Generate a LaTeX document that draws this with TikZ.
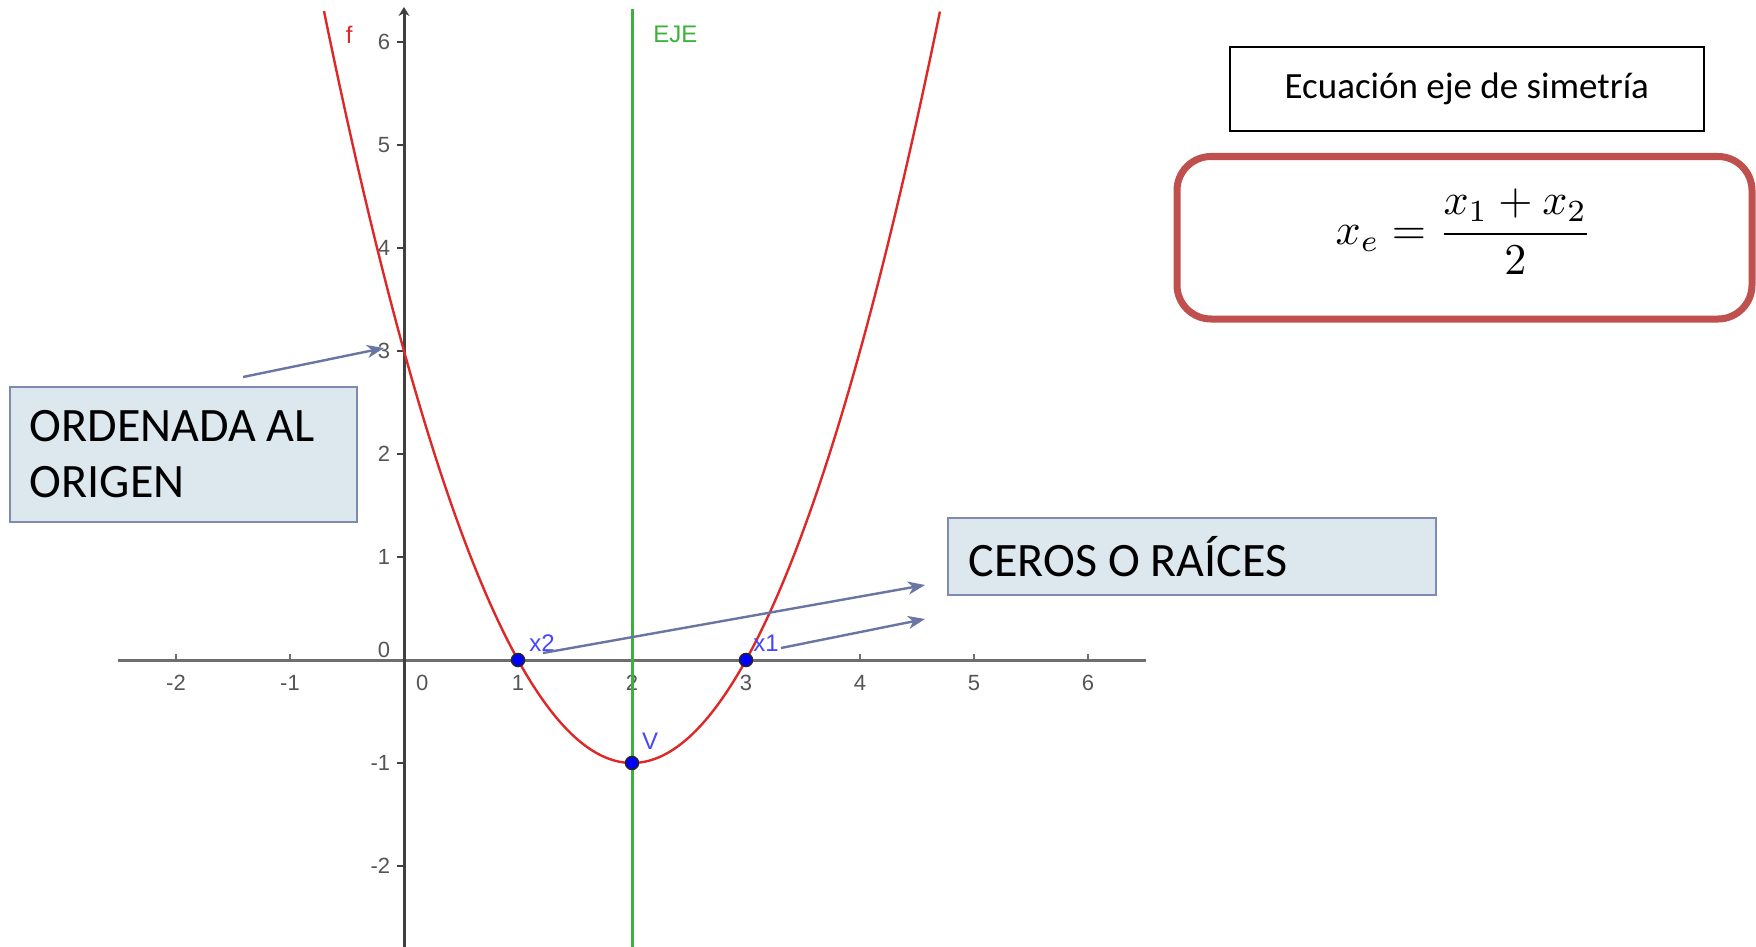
\documentclass[tikz,border=0pt]{standalone}
\usepackage{fontspec}
\setmainfont{Carlito}
\newfontfamily\ggfont{Liberation Sans}
\usetikzlibrary{arrows.meta}
\definecolor{axisdark}{RGB}{64,64,64}
\definecolor{axislight}{RGB}{110,110,110}
\definecolor{curvered}{RGB}{222,40,40}
\definecolor{ejegreen}{RGB}{60,178,60}
\definecolor{ptblue}{RGB}{0,0,255}
\definecolor{lblblue}{RGB}{70,70,255}
\definecolor{tickgray}{RGB}{85,85,85}
\definecolor{arrowblue}{RGB}{105,118,162}
\definecolor{boxfill}{RGB}{221,232,238}
\definecolor{boxborder}{RGB}{125,138,178}
\definecolor{officered}{RGB}{192,80,77}
\tikzset{
  callout/.style={draw=boxborder, fill=boxfill, line width=1.8pt, anchor=north west,
    align=flush left, inner sep=0pt, font=\fontsize{48}{56}\selectfont},
  pointer/.style={draw=arrowblue, line width=2.4pt, -{Stealth[length=17pt,width=13pt,inset=5pt]}},
  ticklbl/.style={font=\ggfont\fontsize{22}{26}\selectfont, text=tickgray, inner sep=0pt},
  ptlbl/.style={font=\ggfont\fontsize{24}{28}\selectfont, text=lblblue, inner sep=0pt},
  ptdot/.style={circle, fill=ptblue, draw=black!85, line width=1.5pt, minimum size=13pt, inner sep=0pt},
  tickline/.style={line width=2pt}
}
\begin{document}
\begin{tikzpicture}[x=1pt,y=-1pt]
\useasboundingbox (0,0) rectangle (1756,947);
\fill[white] (0,0) rectangle (1756,947);
% ---------- graph ----------
\begin{scope}[shift={(404,660)},x=114pt,y=103pt]
  % x axis
  \coordinate (xl) at (-2.51,0);
  \coordinate (xr) at (6.51,0);
  \draw[axislight, line width=3pt] (xl) -- (xr);
  \foreach \i in {-2,-1,1,2,3,4,5,6}
    \draw[axislight, tickline] (\i,0) -- (\i,0.06);
  % y axis
  \coordinate (yb) at (0,-2.8);
  \coordinate (yt) at (0,6.34);
  \draw[axisdark, line width=3pt, -{Stealth[length=9pt,width=11pt]}] (yb) -- (yt);
  \foreach \i in {-2,-1,1,2,3,4,5,6}
    \draw[axisdark, tickline] (0,\i) -- (-0.065,\i);
  % tick labels
  \foreach \i in {-2,-1,1,2,3,4,5,6}
    \node[ticklbl] (xt\i) at (\i,-0.22) {\i};
  \node[ticklbl] (xt0) at (0.16,-0.22) {0};
  \foreach \i in {-2,-1,1,2,3,4,5,6}
    \node[ticklbl, anchor=east] (yt\i) at (-0.12,\i) {\i};
  \node[ticklbl, anchor=east] (yt0) at (-0.12,0.1) {0};
  % symmetry axis
  \coordinate (ejeb) at (2,-2.8);
  \coordinate (ejet) at (2,6.32);
  \draw[ejegreen, line width=3pt] (ejeb) -- (ejet);
  \node[font=\ggfont\fontsize{24}{28}\selectfont, text=ejegreen, inner sep=0pt] (ejelbl) at (2.38,6.07) {EJE};
  % parabola
  \draw[curvered, line width=2.4pt, domain=-0.702:4.702, samples=160, smooth]
    plot (\x, {(\x-1)*(\x-3)});
  \node[font=\ggfont\fontsize{24}{28}\selectfont, text=curvered, inner sep=0pt] (flbl) at (-0.48,6.07) {f};
  % points
  \node[ptdot] (x2) at (1,0) {};
  \node[ptdot] (x1) at (3,0) {};
  \node[ptdot] (V) at (2,-1) {};
  \node[ptlbl] (x2lbl) at (1.21,0.165) {x2};
  \node[ptlbl] (x1lbl) at (3.175,0.165) {x1};
  \node[ptlbl] (Vlbl) at (2.16,-0.79) {V};
\end{scope}
% ---------- callout boxes ----------
\node[callout, minimum width=347pt, minimum height=135pt, text width=307pt] (ord) at (9,386)
  {ORDENADA AL\\ORIGEN};
\node[callout, minimum width=488pt, minimum height=77pt, text width=446pt] (ceros) at (947,517)
  {CEROS O RA\'ICES};
% ---------- arrows ----------
\coordinate (a1s) at (243,377);
\coordinate (a1e) at (384,348);
\coordinate (a2s) at (543,653);
\coordinate (a2e) at (925,585);
\coordinate (a3s) at (781,648);
\coordinate (a3e) at (925,619);
\draw[pointer] (a1s) -- (a1e);
\draw[pointer] (a2s) -- (a2e);
\draw[pointer] (a3s) -- (a3e);
% ---------- symmetry equation ----------
\node[draw=black, line width=1.6pt, minimum width=474pt, minimum height=84pt, anchor=north west,
  font=\fontsize{37}{44}\selectfont, inner sep=0pt] (titulo) at (1229,46) {Ecuación eje de simetría};
\draw[officered, line width=7pt, rounded corners=34pt, fill=white] (1177,156.5) rectangle (1752,319);
\node[scale=4.4, inner sep=0pt] (formula) at (1464,232) {$\displaystyle x_e=\frac{x_1+x_2}{2}$};
\end{tikzpicture}
\end{document}
